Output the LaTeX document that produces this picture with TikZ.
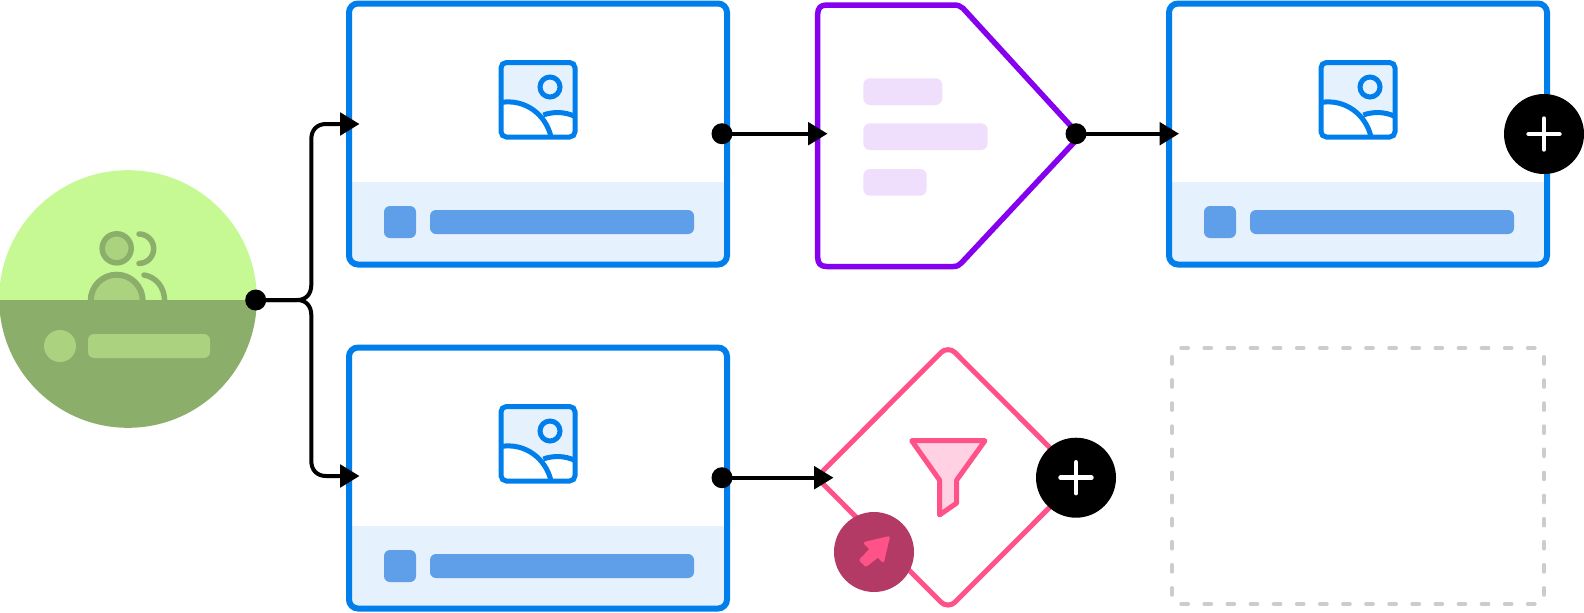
\documentclass[tikz,border=0pt]{standalone}
\usetikzlibrary{arrows.meta}
\definecolor{cblue}{HTML}{007FEC}
\definecolor{cpale}{HTML}{E5F1FC}
\definecolor{cmid}{HTML}{5F9EE9}
\definecolor{cpurple}{HTML}{8400EE}
\definecolor{clilac}{HTML}{F0DFFC}
\definecolor{cpink}{HTML}{FF5289}
\definecolor{cpinkl}{HTML}{FFD1E3}
\definecolor{cmaroon}{HTML}{B43A66}
\definecolor{clime}{HTML}{C6F994}
\definecolor{cgreen}{HTML}{8CAE6B}
\definecolor{cgreenl}{HTML}{AAD27F}
\definecolor{cdash}{HTML}{CCCCCC}
\tikzset{
  px/.style={line width=#1*0.75pt},
  dotnode/.style={circle,fill=black,minimum size=15.75pt,inner sep=0pt},
  addnode/.style={circle,fill=black,minimum size=60pt,inner sep=0pt},
  conn/.style={line width=3pt,draw=black},
  arrowconn/.style={conn,-{Triangle[length=14.5pt,width=16.75pt]}},
}
\newcommand{\cardpic}[2]{% #1 x-left, #2 y-top
  \begin{scope}[shift={(#1,#2)}]
    \begin{scope}
      \clip[rounded corners=6.75pt] (0,0) rectangle (378,261);
      \fill[white] (0,0) rectangle (378,261);
      \fill[cpale] (0,178.5) rectangle (378,261);
    \end{scope}
    \draw[cblue,px=6,rounded corners=6.75pt] (0,0) rectangle (378,261);
    \fill[cmid,rounded corners=4.5pt] (35,202.5) rectangle (67,234.5);
    \fill[cmid,rounded corners=4.5pt] (81,206.5) rectangle (345,230.5);
    \begin{scope}[shift={(152,59)}]
      \fill[cpale,rounded corners=4pt] (0,0) rectangle (74,74.5);
      \fill[white] (0,40) .. controls (24,36) and (45,52) .. (50,74.5) -- (0,74.5) -- cycle;
      \fill[white] (42.3,52.5) .. controls (52,49) and (64,49) .. (74,54) -- (74,74.5) -- (50,74.5) .. controls (49,67) and (46,60) .. (42.3,52.5) -- cycle;
      \draw[cblue,px=5,rounded corners=4pt] (0,0) rectangle (74,74.5);
      \draw[cblue,px=5] (49,24.5) circle (10);
      \draw[cblue,px=5] (0,40) .. controls (24,36) and (45,52) .. (50,74.5);
      \draw[cblue,px=5] (42.3,52.5) .. controls (52,49) and (64,49) .. (74,54);
    \end{scope}
  \end{scope}
}
\newcommand{\plusmark}[1]{%
  \draw[white,px=4.5,line cap=round] ([xshift=-11.6pt]#1.center) -- ([xshift=11.6pt]#1.center);
  \draw[white,px=4.5,line cap=round] ([yshift=-11.6pt]#1.center) -- ([yshift=11.6pt]#1.center);
}
\begin{document}
\begin{tikzpicture}[x=0.75pt,y=-0.75pt]
\useasboundingbox (0,0) rectangle (1584,612);
\fill[white] (0,0) rectangle (1584,612);

% source circle
\begin{scope}
  \clip (128,299) circle (128.8);
  \fill[clime] (0,165) rectangle (260,300);
  \begin{scope}
    \clip (0,165) rectangle (260,300);
    \draw[cgreen,fill=cgreenl,px=5.5] (116.7,248.3) circle (14.5);
    \draw[cgreen,fill=cgreenl,px=6] (116.7,300.7) circle (26);
    \draw[cgreen,px=5.5,line cap=round] (139,234) arc (-90:90:14.7);
    \draw[cgreen,px=5.5,line cap=round] (144,275) .. controls (156,277) and (164.7,287) .. (164.7,302);
  \end{scope}
  \fill[cgreen] (0,300) rectangle (260,430);
  \fill[cgreenl] (60,346) circle (16);
  \fill[cgreenl,rounded corners=4.5pt] (88,334) rectangle (210,358);
\end{scope}

\cardpic{349}{3.5}
\cardpic{349}{347.5}
\cardpic{1169}{3.5}

% pentagon
\draw[cpurple,px=5.5,fill=white,line join=round] (817.7,14) .. controls (817.7,8) and (820.7,5) .. (826.7,5) -- (954,5) .. controls (958,5) and (960,6) .. (963,8.3) -- (1080,136) -- (961.5,262.8) .. controls (959,265.5) and (957,266.5) .. (953,266.5) -- (826.7,266.5) .. controls (820.7,266.5) and (817.7,263.5) .. (817.7,257.5) -- cycle;
\fill[clilac,rounded corners=5pt] (863.3,78.3) rectangle (942.3,105);
\fill[clilac,rounded corners=5pt] (863.3,123.3) rectangle (987.7,150);
\fill[clilac,rounded corners=5pt] (863.3,169) rectangle (926.7,195.7);

% diamond
\draw[cpink,px=5,rounded corners=7.5pt] (948,345.5) -- (1079.5,477.4) -- (948,609.2) -- (816.5,477.4) -- cycle;
\draw[cpink,fill=cpinkl,px=5,line join=round] (911.7,440.7) -- (985,440.7) -- (956.7,480) -- (956.7,503) -- (939.5,515) -- (939.5,480) -- cycle;

% dashed placeholder
\draw[cdash,px=4,line cap=round,dash pattern=on 5.03pt off 12.3pt]
  (1181.3,348) -- (1534.8,348)
  (1181.3,604) -- (1534.8,604)
  (1172,357) -- (1172,594.8)
  (1544,357) -- (1544,594.8);

% nodes
\node[dotnode] (src) at (255.7,300) {};
\node[dotnode] (a1) at (722,133.7) {};
\node[dotnode] (p1) at (1076,133.7) {};
\node[dotnode] (b1) at (722,477.7) {};
\coordinate (ain) at (359.5,124);
\coordinate (bin) at (359.5,476);
\coordinate (pin) at (827.5,133.7);
\coordinate (cin) at (1179,133.7);
\coordinate (din) at (833.5,477.7);
\node[addnode] (add1) at (1544,134) {};
\node[addnode] (add2) at (1076,477.7) {};
\node[circle,fill=cmaroon,minimum size=60pt,inner sep=0pt] (go) at (874,552) {};
\plusmark{add1}
\plusmark{add2}
\fill[cpink,draw=cpink,px=2.5,line join=round] (865,543) -- (888.5,537.5) -- (883,561) -- (878,556) -- (866,565.5) -- (860.5,560) -- (871,549) -- cycle;

% connectors
\draw[arrowconn] (src.center) -- (297,300) .. controls (306,300) and (311.3,294) .. (311.3,285) -- (311.3,139) .. controls (311.3,130) and (317,124) .. (326,124) -- (ain);
\draw[arrowconn] (src.center) -- (297,300) .. controls (306,300) and (311.3,306) .. (311.3,315) -- (311.3,461) .. controls (311.3,470) and (317,476) .. (326,476) -- (bin);
\draw[arrowconn] (a1.center) -- (pin);
\draw[arrowconn] (p1.center) -- (cin);
\draw[arrowconn] (b1.center) -- (din);
\end{tikzpicture}
\end{document}
